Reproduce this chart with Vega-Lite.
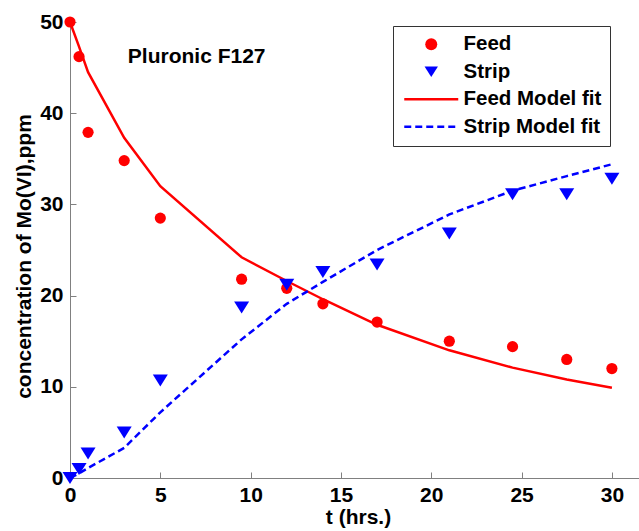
{
  "$schema": "https://vega.github.io/schema/vega-lite/v6.json",
  "width": 569,
  "height": 456,
  "autosize": {"type": "none"},
  "padding": {"left": 70, "top": 22, "right": 0, "bottom": 53},
  "background": "white",
  "config": {
    "view": {"stroke": null},
    "font": "Liberation Sans",
    "axis": {
      "domainColor": "#808080",
      "tickColor": "#808080",
      "tickSize": -6,
      "domainWidth": 1,
      "tickWidth": 1,
      "grid": false,
      "labelFont": "Liberation Sans",
      "labelFontSize": 21,
      "labelFontWeight": "bold",
      "labelColor": "black",
      "titleFont": "Liberation Sans",
      "titleFontSize": 21,
      "titleFontWeight": "bold",
      "titleColor": "black"
    }
  },
  "data": {
    "values": [
      {"t": 0, "c": 50.0, "series": "Feed"},
      {"t": 0.5, "c": 46.2, "series": "Feed"},
      {"t": 1, "c": 37.9, "series": "Feed"},
      {"t": 3, "c": 34.8, "series": "Feed"},
      {"t": 5, "c": 28.5, "series": "Feed"},
      {"t": 9.5, "c": 21.8, "series": "Feed"},
      {"t": 12, "c": 20.8, "series": "Feed"},
      {"t": 14, "c": 19.1, "series": "Feed"},
      {"t": 17, "c": 17.1, "series": "Feed"},
      {"t": 21, "c": 15.0, "series": "Feed"},
      {"t": 24.5, "c": 14.4, "series": "Feed"},
      {"t": 27.5, "c": 13.0, "series": "Feed"},
      {"t": 30, "c": 12.0, "series": "Feed"},
      {"t": 0, "c": 0.0, "series": "Strip"},
      {"t": 0.5, "c": 1.0, "series": "Strip"},
      {"t": 1, "c": 2.7, "series": "Strip"},
      {"t": 3, "c": 5.0, "series": "Strip"},
      {"t": 5, "c": 10.7, "series": "Strip"},
      {"t": 9.5, "c": 18.7, "series": "Strip"},
      {"t": 12, "c": 21.2, "series": "Strip"},
      {"t": 14, "c": 22.6, "series": "Strip"},
      {"t": 17, "c": 23.4, "series": "Strip"},
      {"t": 21, "c": 26.8, "series": "Strip"},
      {"t": 24.5, "c": 31.1, "series": "Strip"},
      {"t": 27.5, "c": 31.1, "series": "Strip"},
      {"t": 30, "c": 32.8, "series": "Strip"},
      {"t": 0, "c": 50.0, "series": "Feed Model fit"},
      {"t": 0.5, "c": 47.3, "series": "Feed Model fit"},
      {"t": 1, "c": 44.5, "series": "Feed Model fit"},
      {"t": 3, "c": 37.3, "series": "Feed Model fit"},
      {"t": 5, "c": 32.0, "series": "Feed Model fit"},
      {"t": 9.5, "c": 24.2, "series": "Feed Model fit"},
      {"t": 12, "c": 21.6, "series": "Feed Model fit"},
      {"t": 14, "c": 19.6, "series": "Feed Model fit"},
      {"t": 17, "c": 16.8, "series": "Feed Model fit"},
      {"t": 21, "c": 14.0, "series": "Feed Model fit"},
      {"t": 24.5, "c": 12.1, "series": "Feed Model fit"},
      {"t": 27.5, "c": 10.8, "series": "Feed Model fit"},
      {"t": 30, "c": 9.9, "series": "Feed Model fit"},
      {"t": 0, "c": 0.0, "series": "Strip Model fit"},
      {"t": 0.5, "c": 0.5, "series": "Strip Model fit"},
      {"t": 1, "c": 1.1, "series": "Strip Model fit"},
      {"t": 3, "c": 3.3, "series": "Strip Model fit"},
      {"t": 5, "c": 7.2, "series": "Strip Model fit"},
      {"t": 9.5, "c": 15.2, "series": "Strip Model fit"},
      {"t": 12, "c": 19.1, "series": "Strip Model fit"},
      {"t": 14, "c": 21.5, "series": "Strip Model fit"},
      {"t": 17, "c": 25.0, "series": "Strip Model fit"},
      {"t": 21, "c": 28.9, "series": "Strip Model fit"},
      {"t": 24.5, "c": 31.5, "series": "Strip Model fit"},
      {"t": 27.5, "c": 33.1, "series": "Strip Model fit"},
      {"t": 30, "c": 34.4, "series": "Strip Model fit"}
    ]
  },
  "encoding": {
    "x": {
      "field": "t",
      "type": "quantitative",
      "scale": {"domain": [0, 31.5], "nice": false, "zero": false},
      "axis": {
        "values": [0, 5, 10, 15, 20, 25, 30],
        "title": "t (hrs.)",
        "labelPadding": 29.4,
        "labelBaseline": "alphabetic",
        "labelFlush": false,
        "titleX": 288,
        "titleY": 45,
        "titleBaseline": "alphabetic",
        "titleAlign": "center"
      }
    },
    "y": {
      "field": "c",
      "type": "quantitative",
      "scale": {"domain": [0, 50], "nice": false},
      "axis": {
        "values": [0, 10, 20, 30, 40, 50],
        "title": "concentration of Mo(VI),ppm",
        "labelPadding": 13,
        "labelFlush": false,
        "titleAngle": 270,
        "titleX": -46,
        "titleY": 234,
        "titleAlign": "center",
        "titleBaseline": "middle"
      }
    },
    "color": {
      "field": "series",
      "type": "nominal",
      "scale": {
        "domain": ["Feed", "Strip", "Feed Model fit", "Strip Model fit"],
        "range": ["#ff0000", "#0000ff", "#ff0000", "#0000ff"]
      },
      "legend": {
        "title": null,
        "orient": "none",
        "legendX": 323,
        "legendY": 4,
        "fillColor": "white",
        "strokeColor": "#333333",
        "padding": 8,
        "symbolOffset": 20,
        "symbolSize": 144,
        "labelOffset": 22,
        "labelFont": "Liberation Sans",
        "labelFontSize": 20.5,
        "labelFontWeight": "bold",
        "labelColor": "black",
        "labelLimit": 300,
        "rowPadding": 6.5,
        "encode": {
          "symbols": {
            "update": {
              "shape": {"signal": "datum.value === 'Feed' ? 'circle' : datum.value === 'Strip' ? 'M-1,-0.8L1,-0.8L0,0.8Z' : 'M-4.5,0H4.5'"},
              "fill": {"signal": "datum.value === 'Feed' ? '#ff0000' : datum.value === 'Strip' ? '#0000ff' : 'transparent'"},
              "stroke": {"signal": "(datum.value === 'Feed' || datum.value === 'Feed Model fit') ? '#ff0000' : '#0000ff'"},
              "strokeWidth": {"signal": "(datum.value === 'Feed' || datum.value === 'Strip') ? 0 : 2.5"},
              "strokeDash": {"signal": "datum.value === 'Strip Model fit' ? [7, 4] : [1, 0]"},
              "opacity": {"value": 1},
              "fillOpacity": {"value": 1},
              "size": {"signal": "datum.value === 'Strip' ? 180 : 144"}
            }
          }
        }
      }
    }
  },
  "layer": [
    {
      "transform": [{"filter": "datum.series === 'Feed Model fit'"}],
      "mark": {"type": "line", "strokeWidth": 2.5}
    },
    {
      "transform": [{"filter": "datum.series === 'Strip Model fit'"}],
      "mark": {"type": "line", "strokeWidth": 2.5, "strokeDash": [7, 4]}
    },
    {
      "transform": [{"filter": "datum.series === 'Feed'"}],
      "mark": {"type": "point", "filled": true, "opacity": 1, "shape": "circle", "size": 125}
    },
    {
      "transform": [{"filter": "datum.series === 'Strip'"}],
      "mark": {"type": "point", "filled": true, "opacity": 1, "shape": "M-1,-0.8L1,-0.8L0,0.8Z", "size": 225}
    },
    {
      "data": {"values": [{"t": 3.2, "c": 46.2, "label": "Pluronic F127"}]},
      "mark": {"type": "text", "align": "left", "baseline": "middle", "font": "Liberation Sans", "fontSize": 21, "fontWeight": "bold"},
      "encoding": {
        "text": {"field": "label"},
        "color": {"value": "black"}
      }
    }
  ]
}
